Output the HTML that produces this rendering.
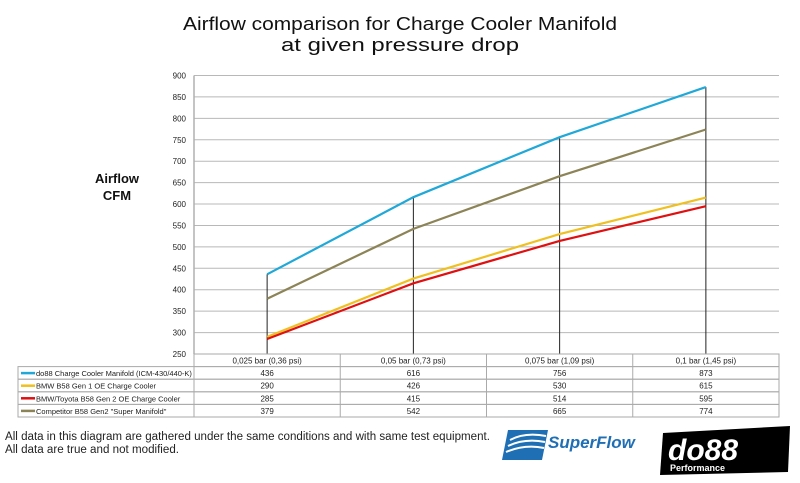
<!DOCTYPE html>
<html><head><meta charset="utf-8"><style>
body{margin:0;background:#fff;width:800px;height:478px;overflow:hidden;font-family:"Liberation Sans","DejaVu Sans",sans-serif}
</style></head><body>
<svg width="800" height="478" xmlns="http://www.w3.org/2000/svg">
<text x="183" y="30" textLength="434" lengthAdjust="spacingAndGlyphs" font-size="18" fill="#111">Airflow comparison for Charge Cooler Manifold</text>
<text x="281" y="51" textLength="238" lengthAdjust="spacingAndGlyphs" font-size="18" fill="#111">at given pressure drop</text>
<text x="117" y="183" text-anchor="middle" font-size="13" font-weight="bold" fill="#111">Airflow</text>
<text x="117" y="200" text-anchor="middle" font-size="13" font-weight="bold" fill="#111">CFM</text>
<g id="grid"></g><g id="marks"></g><g id="table"></g>
<text x="5" y="440" textLength="485" lengthAdjust="spacingAndGlyphs" font-size="11.5" fill="#222">All data in this diagram are gathered under the same conditions and with same test equipment.</text>
<text x="5" y="453" textLength="174" lengthAdjust="spacingAndGlyphs" font-size="11.5" fill="#222">All data are true and not modified.</text>
<g>
<path d="M508 430 L548 430 L542 460 L502 460 Z" fill="#1f6fb5"/>
<path d="M510 440 Q525 432 546 436 M508 446 Q525 438 545 442 M506 452 Q525 444 544 448" stroke="#fff" stroke-width="2" fill="none"/>
<text x="548" y="448" font-size="17" font-weight="bold" font-style="italic" fill="#1f6fb5">SuperFlow</text>
</g>
<g>
<path d="M663 433 L790 426 L788 472 L660 475 Z" fill="#000"/>
<text x="668" y="460" font-size="30" font-weight="bold" font-style="italic" fill="#fff">do88</text>
<text x="670" y="471" font-size="9" font-weight="bold" fill="#fff">Performance</text>
</g>
</svg>
<script>
const categories=["0,025 bar (0,36 psi)","0,05 bar (0,73 psi)","0,075 bar (1,09 psi)","0,1 bar (1,45 psi)"];
const seriesNames=["do88 Charge Cooler Manifold (ICM-430/440-K)","BMW B58 Gen 1 OE Charge Cooler","BMW/Toyota B58 Gen 2 OE Charge Cooler","Competitor B58 Gen2 \"Super Manifold\""];
const do88=[436,616,756,873];
const gen1=[290,426,530,615];
const gen2=[285,415,514,595];
const competitor=[379,542,665,774];
const yTicks=[250,300,350,400,450,500,550,600,650,700,750,800,850,900];
const series=[do88,gen1,gen2,competitor];
const colors=["#1fa8d8","#f0c020","#e01010","#8c8457"];
const NS="http://www.w3.org/2000/svg";
const x0=194,x1=779,yTop=75.5,yBot=354;
const y=v=>yBot-(v-250)/(900-250)*(yBot-yTop);
const bw=(x1-x0)/categories.length;
const x=i=>x0+bw*(i+0.5);
function mk(tag,attrs,parent){const e=document.createElementNS(NS,tag);for(const k in attrs)e.setAttribute(k,attrs[k]);parent.appendChild(e);return e;}
const grid=document.getElementById('grid'),marks=document.getElementById('marks'),table=document.getElementById('table');
yTicks.forEach(t=>{
 const l=mk('line',{x1:x0,x2:x1,y1:y(t),y2:y(t),stroke:'#b8b8b8','stroke-width':1},grid);
 
 
 const tx=mk('text',{x:x0-8,y:y(t)+3,'text-anchor':'end','font-size':8,fill:'#222'},grid);
 tx.textContent=t;
 
 
});
const ax=mk('line',{x1:x0,x2:x0,y1:yTop,y2:yBot,stroke:'#b0b0b0','stroke-width':1.5},grid);


categories.forEach((c,i)=>{
 const mx=Math.max(...series.map(s=>s[i]));
 const d=mk('line',{x1:x(i),x2:x(i),y1:y(mx),y2:yBot,stroke:'#222','stroke-width':1},marks);
 
 
});
series.forEach((s,k)=>{
 const p=mk('polyline',{points:s.map((v,i)=>x(i)+','+y(v)).join(' '),fill:'none',stroke:colors[k],'stroke-width':2.2},marks);
 
 
});
const rowY=[354,366.6,379.2,391.8,404.4,417];
const tl=18;
mk('rect',{x:x0,y:rowY[0],width:x1-x0,height:rowY[1]-rowY[0],fill:'none',stroke:'#aaa'},table);
for(let r=1;r<=4;r++){mk('rect',{x:tl,y:rowY[r],width:x1-tl,height:rowY[r+1]-rowY[r],fill:'none',stroke:'#aaa'},table);}
for(let i=0;i<=categories.length;i++){mk('line',{x1:x0+bw*i,x2:x0+bw*i,y1:rowY[0],y2:rowY[5],stroke:'#aaa'},table);}
categories.forEach((c,i)=>{
 const t=mk('text',{x:x(i),y:rowY[0]+9.5,'text-anchor':'middle','font-size':8,fill:'#222'},table);
 t.textContent=c;
 
 
});
series.forEach((s,k)=>{
 const yy=rowY[k+1]+9.5;
 mk('line',{x1:tl+3,x2:tl+17,y1:yy-3,y2:yy-3,stroke:colors[k],'stroke-width':2.5},table);
 const n=mk('text',{x:tl+18,y:yy,'font-size':7.5,fill:'#222'},table);
 n.textContent=seriesNames[k];
 
 
 s.forEach((v,i)=>{
  const t=mk('text',{x:x(i),y:yy,'text-anchor':'middle','font-size':8,fill:'#222'},table);
  t.textContent=v;
  
  
 });
});
</script>
</body></html>
